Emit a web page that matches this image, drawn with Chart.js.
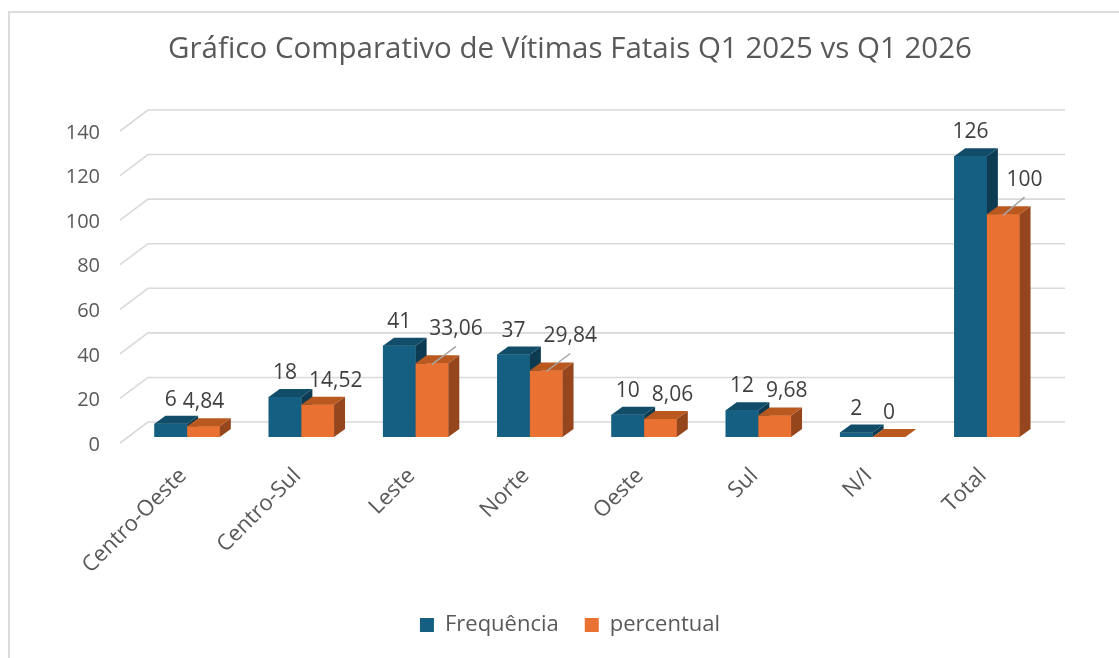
<!DOCTYPE html>
<html>
<head>
<meta charset="utf-8">
<script src="https://cdn.jsdelivr.net/npm/chart.js@4.4.1/dist/chart.umd.min.js"></script>
<style>
  html, body { margin: 0; padding: 0; background: #fff; overflow: hidden; }
  #frame { position: absolute; left: 8px; top: 11px; width: 1200px; height: 700px; border: 2px solid #dcdcdc; box-sizing: border-box; }
  #wrap { position: absolute; left: 0; top: 0; width: 1119px; height: 658px; }
</style>
</head>
<body>
<div id="frame"></div>
<div id="wrap"><canvas id="c" width="1119" height="658"></canvas></div>
<script>
// data
const categories = ['Centro-Oeste', 'Centro-Sul', 'Leste', 'Norte', 'Oeste', 'Sul', 'N/I', 'Total'];
const frequencia = [6, 18, 41, 37, 10, 12, 2, 126];
const percentual = [4.84, 14.52, 33.06, 29.84, 8.06, 9.68, 0, 100];
const seriesNames = ['Frequência', 'percentual'];
const yTicks = [0, 20, 40, 60, 80, 100, 120, 140];
const titleText = 'Gráfico Comparativo de Vítimas Fatais Q1 2025 vs Q1 2026';

// colours: front, top, side
const BLUE = ['#156082', '#114c68', '#0d3b51'];
const ORANGE = ['#e97132', '#b9581f', '#96461c'];
const FONT = '"Open Sans", "Liberation Sans", sans-serif';

// 3d look
const DEPTH_X = 11, DEPTH_Y = -8;     // bar depth
const WALL_BACK_X = 18, WALL_FRONT_X = -10, WALL_BACK_Y = -15, WALL_FRONT_Y = 6;

function fmtPct(v){ return String(v).replace('.', ','); }

const wall3d = {
  id: 'wall3d',
  beforeDatasetsDraw(chart){
    const {ctx, chartArea: a, scales: {y}} = chart;
    ctx.save();
    ctx.strokeStyle = '#d9d9d9';
    ctx.lineWidth = 1.6;
    yTicks.forEach(v => {
      const py = y.getPixelForValue(v);
      ctx.beginPath();
      ctx.moveTo(a.left + WALL_FRONT_X, py + WALL_FRONT_Y);
      ctx.lineTo(a.left + WALL_BACK_X, py + WALL_BACK_Y);
      ctx.lineTo(a.right + 21, py + WALL_BACK_Y);
      ctx.stroke();
    });
    ctx.restore();
  }
};

const bars3d = {
  id: 'bars3d',
  afterDatasetsDraw(chart){
    const ctx = chart.ctx;
    const m0 = chart.getDatasetMeta(0).data, m1 = chart.getDatasetMeta(1).data;
    ctx.save();
    categories.forEach((c, i) => {
      [[m0[i], BLUE], [m1[i], ORANGE]].forEach(([bar, col]) => {
        const {x, y, base, width} = bar.getProps(['x', 'y', 'base', 'width'], true);
        const l = x - width / 2, r = x + width / 2;
        ctx.fillStyle = col[0];
        ctx.fillRect(l, y, width, base - y);
        ctx.fillStyle = col[2];
        ctx.beginPath();
        ctx.moveTo(r, y); ctx.lineTo(r + DEPTH_X, y + DEPTH_Y);
        ctx.lineTo(r + DEPTH_X, base + DEPTH_Y); ctx.lineTo(r, base);
        ctx.closePath(); ctx.fill();
        ctx.fillStyle = col[1];
        ctx.beginPath();
        ctx.moveTo(l, y); ctx.lineTo(l + DEPTH_X, y + DEPTH_Y);
        ctx.lineTo(r + DEPTH_X, y + DEPTH_Y); ctx.lineTo(r, y);
        ctx.closePath(); ctx.fill();
      });
    });

    // value labels
    ctx.font = '21px ' + FONT;
    ctx.textAlign = 'center';
    ctx.textBaseline = 'middle';
    categories.forEach((c, i) => {
      const b = m0[i], o = m1[i];
      const t1 = String(frequencia[i]);
      const w1 = ctx.measureText(t1).width;
      ctx.fillStyle = '#404040';
      ctx.fillText(t1, b.x, b.y - 24);

      const t2 = fmtPct(percentual[i]);
      const w2 = ctx.measureText(t2).width;
      const blueRight = b.x + w1 / 2;
      let x2 = o.x, y2 = o.y - 24, leader = false;
      if (x2 - w2 / 2 < blueRight + 4) {
        const lifted = o.y - b.y > 12;
        x2 = blueRight + (lifted ? 18 : 12) + w2 / 2;
        if (lifted) { y2 = o.y - 34; leader = true; }
      }
      if (leader) {
        ctx.strokeStyle = '#a6a6a6';
        ctx.lineWidth = 1.5;
        ctx.beginPath();
        ctx.moveTo(x2, y2 + 17);
        ctx.lineTo(o.x, o.y + 1);
        ctx.stroke();
      }
      ctx.fillStyle = '#404040';
      ctx.fillText(t2, x2, y2);
    });
    ctx.restore();
  }
};

new Chart(document.getElementById('c'), {
  type: 'bar',
  data: {
    labels: categories,
    datasets: [
      { label: seriesNames[0], data: frequencia, backgroundColor: BLUE[0] },
      { label: seriesNames[1], data: percentual, backgroundColor: ORANGE[0] }
    ]
  },
  options: {
    responsive: false,
    animation: false,
    events: [],
    categoryPercentage: 0.572,
    barPercentage: 1.0,
    layout: { padding: { left: 60, right: 39, top: 0, bottom: 12 } },
    plugins: {
      title: {
        display: true, text: titleText, color: '#595959',
        font: { family: FONT, size: 29.5, weight: 'normal' },
        padding: { top: 32, bottom: 57.6 }
      },
      legend: {
        position: 'bottom',
        labels: {
          color: '#595959', boxWidth: 14, boxHeight: 14, padding: 26,
          font: { family: FONT, size: 22 }
        }
      },
      tooltip: { enabled: false }
    },
    scales: {
      x: {
        grid: { display: false, drawTicks: false }, border: { display: false },
        ticks: {
          color: '#595959', font: { family: FONT, size: 22 },
          minRotation: 45, maxRotation: 45, autoSkip: false,
          labelOffset: -4, padding: 26
        },
        afterFit(scale){ scale.height = 151; }
      },
      y: {
        min: 0, max: 140,
        grid: { display: false, drawTicks: false }, border: { display: false },
        ticks: {
          color: '#595959', font: { family: FONT, size: 20 },
          stepSize: 20, padding: 30, labelOffset: 8,
          callback: (v) => yTicks.includes(v) ? String(v) : ''
        },
        afterFit(scale){ scale.width = 70; }
      },
      // empty right margin so the title and legend centre like the original
      spacer: {
        type: 'linear', position: 'right', display: true,
        grid: { display: false, drawTicks: false }, border: { display: false },
        ticks: { display: false },
        afterFit(scale){ scale.width = 36; }
      }
    }
  },
  plugins: [wall3d, bars3d]
});
</script>
</body>
</html>
